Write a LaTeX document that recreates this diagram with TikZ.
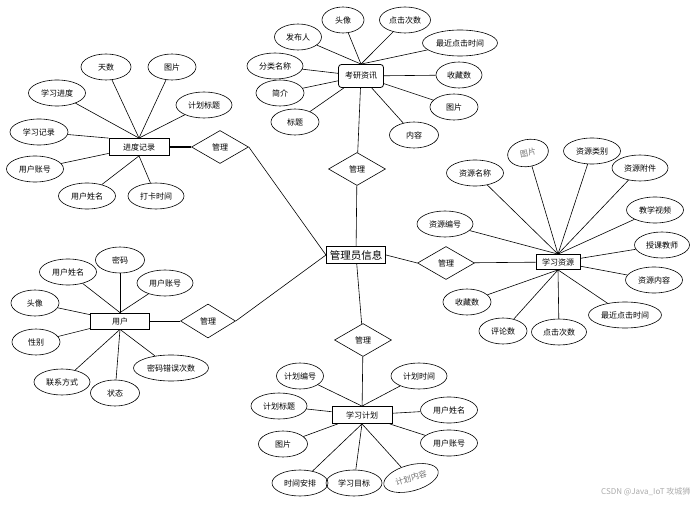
\documentclass[tikz,border=0pt]{standalone}
\usepackage{fontspec}
\setmainfont{Noto Sans CJK SC}
\usetikzlibrary{shapes.geometric}
\definecolor{markgray}{RGB}{110,110,110}
\definecolor{wmgray}{RGB}{170,170,170}
\tikzset{
  attr/.style={draw, ellipse, inner sep=0pt, minimum height=26pt, line width=0.6pt,
    font=\fontsize{8}{9}\selectfont},
  entity/.style={draw, rectangle, inner sep=0pt, minimum width=60pt, minimum height=17pt,
    line width=0.8pt, font=\fontsize{8}{9}\selectfont},
  relation/.style={draw, diamond, inner sep=0pt, minimum width=57pt, minimum height=33pt,
    line width=0.6pt, font=\fontsize{8}{9}\selectfont},
  link/.style={line width=0.6pt}
}

\begin{document}
\begin{tikzpicture}[x=1pt,y=-1pt]
    \useasboundingbox (0,0) rectangle (696,505);

    % Centre
    \node[entity, line width=1.1pt, minimum width=59pt, font=\fontsize{10.5}{12}\selectfont] (gly) at (356,255) {管理员信息};

    % Kaoyan news
    \node[entity, rounded corners=3pt, minimum width=45pt, minimum height=23pt] (kyzx) at (361,76) {考研资讯};
    \foreach \n/\x/\y/\w/\t/\e in {kytx/343/20/42/头像/kyzx.north, kydj/405/20/51/点击次数/kyzx.north,
        kyfb/298/37/47/发布人/kyzx.north, kyzj/460/43/75/最近点击时间/kyzx.north,
        kyfl/275/66/56/分类名称/kyzx, kysc/459/75/46/收藏数/kyzx, kyjj/280/93/48/简介/kyzx,
        kytp/454/107/48/图片/kyzx, kybt/295/122/48/标题/kyzx, kynr/414/135/49/内容/kyzx} {
        \node[attr, minimum width=\w pt] (\n) at (\x,\y) {\t};
        \draw[link] (\n) -- (\e);
    }
    \node[relation] (gl1) at (357,169) {管理};
    \draw[link] (kyzx) -- (gl1);
    \draw[link] (gl1) -- (gly);

    % Progress records
    \node[entity] (jdjl) at (139,147) {进度记录};
    \foreach \n/\x/\y/\w/\t/\e in {jdts/106/67/50/天数/jdjl.north, jdtp/172/67/48/图片/jdjl.north,
        jdjd/57/93/57/学习进度/jdjl.north, jdbt/204/105/56/计划标题/jdjl.north,
        jdjl2/39/132/58/学习记录/jdjl.north west, jdzh/35/169/57/用户账号/jdjl,
        jdxm/87/196/57/用户姓名/jdjl.south, jddk/156/196/56/打卡时间/jdjl.south} {
        \node[attr, minimum width=\w pt] (\n) at (\x,\y) {\t};
        \draw[link] (\n) -- (\e);
    }
    \node[relation] (gl2) at (220,147) {管理};
    \draw[line width=1.2pt] (jdjl) -- (gl2);
    \draw[link] (gl2.east) -- (gly.west);

    % Users
    \node[entity, minimum width=59pt, minimum height=16pt] (yh) at (120,321) {用户};
    \foreach \n/\x/\y/\w/\t/\e in {yhmm/120/260/49/密码/yh.north, yhxm/68/272/57/用户姓名/yh.north,
        yhzh/165/283/56/用户账号/yh.north, yhtx/35/303/48/头像/yh, yhxb/36/342/48/性别/yh,
        yhcw/171/368/75/密码错误次数/yh.south, yhlx/62/382/56/联系方式/yh.south,
        yhzt/115/393/49/状态/yh.south} {
        \node[attr, minimum width=\w pt] (\n) at (\x,\y) {\t};
        \draw[link] (\n) -- (\e);
    }
    \node[relation, minimum width=55pt, minimum height=34pt] (gl3) at (208,321) {管理};
    \draw[link] (yh) -- (gl3);
    \draw[link] (gl3.east) -- (gly.west);

    % Learning resources
    \node[entity, minimum width=44pt, minimum height=15pt] (xxzy) at (558,262) {学习资源};
    \foreach \n/\x/\y/\w/\t/\e in {zylb/592/151/57/资源类别/xxzy.north, zymc/475/173/57/资源名称/xxzy.north,
        zyfj/640/168/56/资源附件/xxzy.north, zysp/655/210/57/教学视频/xxzy.north,
        zybh/445/224/56/资源编号/xxzy.north, zyjs/662/245/55/授课教师/xxzy,
        zynr/654/280/57/资源内容/xxzy, zysc/467/302/48/收藏数/xxzy.south,
        zyzj/625/315/73/最近点击时间/xxzy.south, zypl/503/331/48/评论数/xxzy.south,
        zydj/559/332/55/点击次数/xxzy.south} {
        \node[attr, minimum width=\w pt] (\n) at (\x,\y) {\t};
        \draw[link] (\n) -- (\e);
    }
    \node[attr, minimum width=41pt, minimum height=27pt, rotate=10, text=markgray] (zytp) at (528,153) {图片};
    \draw[link] (zytp) -- (xxzy.north);
    \node[relation] (gl4) at (446,263) {管理};
    \draw[link] (gly.east) -- (gl4.west);
    \draw[link] (gl4) -- (xxzy);

    % Study plans
    \node[entity] (xxjh) at (362,415) {学习计划};
    \foreach \n/\x/\y/\w/\t/\e in {jhbh/300/376/47/计划编号/xxjh.north, jhsj/419/376/56/计划时间/xxjh.north,
        jhbt/279/406/56/计划标题/xxjh, jhxm/449/410/57/用户姓名/xxjh, jhtp/283/444/49/图片/xxjh,
        jhzh/449/443/57/用户账号/xxjh, jhap/300/483/56/时间安排/xxjh.south,
        jhmb/354/483/56/学习目标/xxjh.south} {
        \node[attr, minimum width=\w pt] (\n) at (\x,\y) {\t};
        \draw[link] (\n) -- (\e);
    }
    \node[attr, minimum width=56pt, rotate=15, text=markgray] (jhnr) at (411,478) {计划内容};
    \draw[link] (jhnr) -- (xxjh.south);
    \node[relation] (gl5) at (363,340) {管理};
    \draw[link] (gly) -- (gl5);
    \draw[link] (gl5) -- (xxjh);

    % Watermark
    \node[anchor=east, text=wmgray, font=\fontsize{8}{9}\selectfont] (wm) at (694,492) {CSDN @Java\_IoT 攻城狮};
\end{tikzpicture}
\end{document}
